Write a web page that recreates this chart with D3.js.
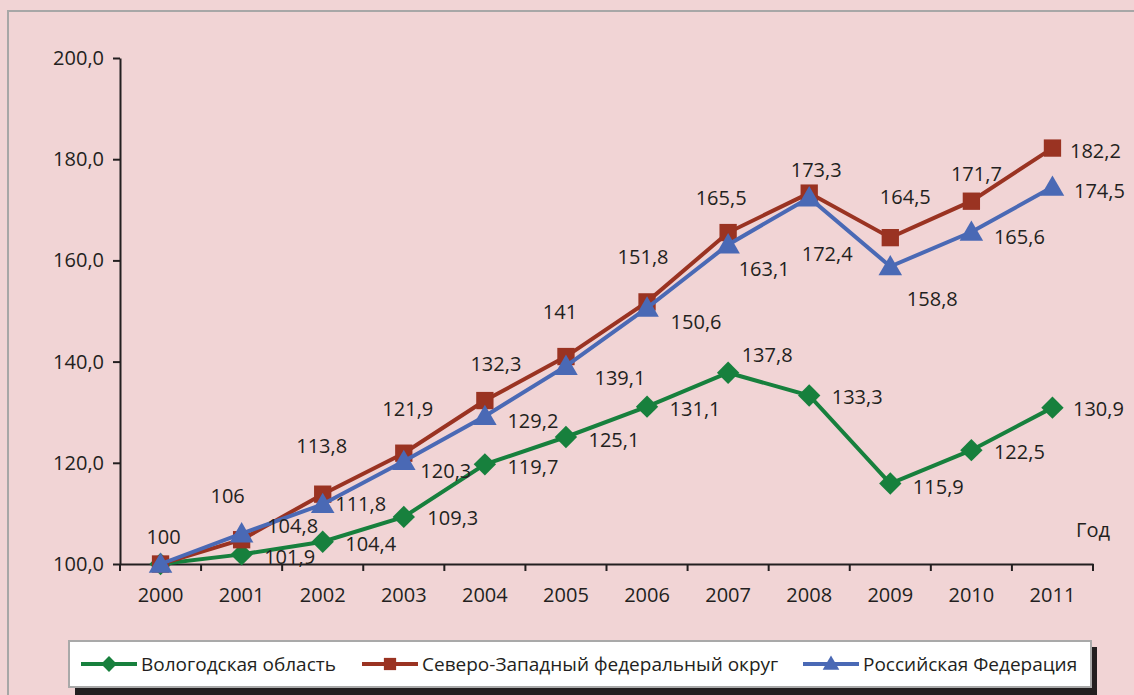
<!DOCTYPE html>
<html>
<head>
<meta charset="utf-8">
<script src="https://cdn.jsdelivr.net/npm/d3@7"></script>
<style>
  body { margin: 0; background: #f1d4d5; }
  svg { display: block; font-family: "Open Sans", sans-serif; }
</style>
</head>
<body>
<svg id="chart"></svg>
<script>
const years = ["2000","2001","2002","2003","2004","2005","2006","2007","2008","2009","2010","2011"];
const vologda = [100, 101.9, 104.4, 109.3, 119.7, 125.1, 131.1, 137.8, 133.3, 115.9, 122.5, 130.9];
const szfo = [100, 104.8, 113.8, 121.9, 132.3, 141, 151.8, 165.5, 173.3, 164.5, 171.7, 182.2];
const russia = [100, 106, 111.8, 120.3, 129.2, 139.1, 150.6, 163.1, 172.4, 158.8, 165.6, 174.5];
const seriesNames = ["Вологодская область", "Северо-Западный федеральный округ", "Российская Федерация"];
const yTicks = [100, 120, 140, 160, 180, 200];

// hand placed label offsets (dx, dy from the point), null = no label
const greenLabelPos = [null,[48,2],[48,2],[49,1],[48,2],[48,3],[48,2],[39,-18],[48,1],[48,3],[48,1],[46,1]];
const redLabelPos = [[3,-28],[51,-14],[-1,-49],[4,-45],[11,-37],[-6,-45],[-4,-45],[-7,-35],[7,-24],[15,-41],[5,-28],[43,2]];
const blueLabelPos = [null,[-14,-38],[38,-1],[42,9],[48,4],[54,11],[49,14],[36,24],[18,56],[42,32],[48,4],[47,3]];

const width = 1134, height = 695;
const svg = d3.select("#chart").attr("width", width).attr("height", height);

svg.append("rect")
    .attr("x", 8).attr("y", 11)
    .attr("width", width).attr("height", height)
    .attr("fill", "none")
    .attr("stroke", "#a7a7a7")
    .attr("stroke-width", 2);

const x = d3.scaleBand().domain(years).range([120, 1093]).padding(0);
const y = d3.scaleLinear().domain([100, 200]).range([564, 58]);
const cx = d => x(d) + x.bandwidth() / 2;

const axisColor = "#231f20";
const fs = 20;
const fmt = v => String(v).replace(".", ",");

// y axis
const yAxis = d3.axisLeft(y)
    .tickValues(yTicks)
    .tickSizeInner(7)
    .tickSizeOuter(0)
    .tickPadding(9)
    .tickFormat(d => d3.format(".1f")(d).replace(".", ","));

const yg = svg.append("g").attr("transform", "translate(120,0)").call(yAxis);
yg.select(".domain").attr("stroke", axisColor).attr("stroke-width", 2);
yg.selectAll(".tick line").attr("stroke", axisColor).attr("stroke-width", 2);
yg.selectAll(".tick text").attr("fill", axisColor).attr("font-size", fs)
    .attr("font-family", "Open Sans");

// x axis (labels centred, ticks on band edges)
const xAxis = d3.axisBottom(x).tickSize(0).tickPadding(24);
const xg = svg.append("g").attr("transform", "translate(0,564)").call(xAxis);
xg.select(".domain").attr("stroke", axisColor).attr("stroke-width", 2);
xg.selectAll(".tick text").attr("fill", axisColor).attr("font-size", fs)
    .attr("font-family", "Open Sans");

const edges = years.map(d => x(d)).concat([x.range()[1]]);
xg.selectAll(".edge").data(edges).enter().append("line")
    .attr("class", "edge")
    .attr("x1", d => d).attr("x2", d => d)
    .attr("y1", 0).attr("y2", 7)
    .attr("stroke", axisColor).attr("stroke-width", 2);

svg.append("text")
    .attr("x", 1076).attr("y", 537)
    .attr("font-size", fs)
    .attr("fill", axisColor)
    .text("Год");

const series = [
    { name: seriesNames[0], values: vologda, color: "#17803d", symbol: d3.symbolSquare, rot: 45, size: 250, labels: greenLabelPos },
    { name: seriesNames[1], values: szfo, color: "#9a3322", symbol: d3.symbolSquare, rot: 0, size: 300, labels: redLabelPos },
    { name: seriesNames[2], values: russia, color: "#4a69b5", symbol: d3.symbolTriangle, rot: 0, size: 240, labels: blueLabelPos }
];

const line = d3.line().x(d => cx(d.year)).y(d => y(d.v));

series.forEach(s => {
    const pts = years.map((yr, i) => ({ year: yr, v: s.values[i] }));
    svg.append("path")
        .attr("d", line(pts))
        .attr("fill", "none")
        .attr("stroke", s.color)
        .attr("stroke-width", 4);

    svg.selectAll(null).data(pts).enter().append("path")
        .attr("d", d3.symbol().type(s.symbol).size(s.size))
        .attr("transform", d => {
            let off = s.symbol === d3.symbolTriangle ? 2 : 0;
            return `translate(${cx(d.year)},${y(d.v) + off}) rotate(${s.rot})`;
        })
        .attr("fill", s.color);
});

series.forEach(s => {
    const pts = years.map((yr, i) => ({ year: yr, v: s.values[i], pos: s.labels[i] }))
        .filter(d => d.pos);
    svg.selectAll(null).data(pts).enter().append("text")
        .attr("x", d => cx(d.year) + d.pos[0])
        .attr("y", d => y(d.v) + d.pos[1])
        .attr("text-anchor", "middle")
        .attr("dominant-baseline", "central")
        .attr("font-size", fs)
        .attr("fill", axisColor)
        .text(d => fmt(d.v));
});

// legend
const lg = svg.append("g");
lg.append("rect")
    .attr("x", 75).attr("y", 647)
    .attr("width", 1022).attr("height", 48)
    .attr("fill", "#231f20");
lg.append("rect")
    .attr("x", 69).attr("y", 641)
    .attr("width", 1022).attr("height", 46)
    .attr("fill", "#ffffff")
    .attr("stroke", "#a9a9a9")
    .attr("stroke-width", 2);

const legendX = [81, 362, 803];
series.forEach((s, i) => {
    const g = lg.append("g").attr("transform", `translate(${legendX[i]},664)`);
    g.append("line").attr("x1", 0).attr("x2", 56).attr("y1", 0).attr("y2", 0)
        .attr("stroke", s.color).attr("stroke-width", 4);
    g.append("path")
        .attr("d", d3.symbol().type(s.symbol).size(s.size * 0.5))
        .attr("transform", `translate(28,${s.symbol === d3.symbolTriangle ? 1 : 0}) rotate(${s.rot})`)
        .attr("fill", s.color);
    g.append("text")
        .attr("x", 60).attr("y", 0)
        .attr("dominant-baseline", "central")
        .attr("font-size", 19)
        .attr("fill", axisColor)
        .text(s.name);
});
</script>
</body>
</html>
